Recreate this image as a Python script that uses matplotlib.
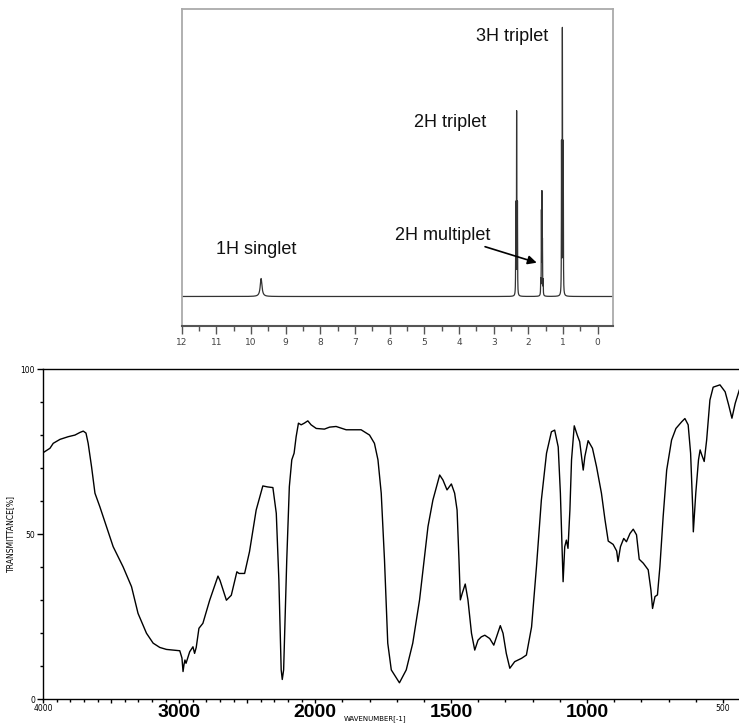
import numpy as np
import matplotlib
matplotlib.use("Agg")
import matplotlib.pyplot as plt
from matplotlib.ticker import FixedLocator, MultipleLocator

plt.rcParams['font.family'] = ['Liberation Sans', 'DejaVu Sans']

# 1H NMR peak list (ppm, height above baseline, half width)
nmr_ppm = [9.71, 2.316, 2.34, 2.364, 1.575, 1.595, 1.61, 1.625, 1.645, 0.995, 1.02, 1.045]
nmr_height = [18, 90, 181, 90, 14, 50, 97, 79, 14, 149, 262, 149]
nmr_width = [0.03, 0.004, 0.004, 0.004, 0.004, 0.004, 0.004, 0.004, 0.004, 0.004, 0.004, 0.004]

# IR spectrum
ir_wavenumber = [4000, 3951, 3927, 3877, 3817, 3767, 3730, 3706, 3686, 3670, 3645, 3620, 3584,
                 3535, 3486, 3413, 3351, 3303, 3241, 3192, 3143, 3094, 2996, 2980, 2972, 2965,
                 2958, 2950, 2923, 2899, 2887, 2875, 2855, 2826, 2776, 2715, 2700, 2653, 2617,
                 2576, 2560, 2519, 2483, 2434, 2385, 2350, 2311, 2286, 2267, 2257, 2250, 2242,
                 2232, 2223, 2209, 2190, 2172, 2155, 2140, 2123, 2103, 2080, 2054, 2030, 1996,
                 1966, 1947, 1923, 1886, 1855, 1831, 1800, 1782, 1769, 1757, 1745, 1733, 1720,
                 1690, 1665, 1641, 1616, 1585, 1567, 1542, 1530, 1515, 1499, 1487, 1478, 1471,
                 1466, 1459, 1448, 1438, 1425, 1413, 1401, 1389, 1376, 1358, 1343, 1333, 1319,
                 1309, 1297, 1284, 1266, 1241, 1223, 1204, 1186, 1168, 1149, 1131, 1119, 1106,
                 1098, 1090, 1088, 1082, 1076, 1070, 1063, 1057, 1047, 1036, 1027, 1014, 1008,
                 996, 980, 965, 947, 934, 922, 904, 891, 886, 877, 865, 855, 842, 830, 818, 808,
                 793, 775, 765, 759, 750, 741, 732, 720, 707, 689, 673, 652, 640, 628, 619, 611,
                 609, 600, 590, 584, 578, 569, 560, 548, 536, 511, 492, 479, 467, 455, 440]
ir_transmittance = [74.7, 76, 77.5, 78.7, 79.5, 80, 80.8, 81.2, 80.6, 77.5, 70.4, 62.4, 58.3,
                    52.3, 46.2, 40.1, 34.1, 26.0, 20.0, 17.0, 15.7, 15.1, 14.7, 12.5, 8.4, 10.5,
                    11.9, 10.9, 14.4, 15.9, 13.9, 15.7, 21.5, 23, 30, 37.3, 36, 30, 31.5,
                    38.6, 38.1, 38.1, 44.7, 57.3, 64.6, 64.3, 64.1, 56.3, 36.1, 20, 8.9, 6.0,
                    8.9, 22, 42.2, 64.4, 72.5, 74.5, 79.5, 83.6, 83.1, 83.6, 84.3, 83.1, 82.0,
                    81.8, 82.4, 82.6, 81.6, 81.6, 81.6, 80.0, 77.5, 72.5, 62.4, 42.2, 17, 8.9,
                    5.0, 8.9, 17, 30.1, 52.3, 60.3, 67.9, 66.4, 63.4, 65.2, 62.4, 57.3, 42.2,
                    30.1, 32.1, 34.9, 30.1, 20, 14.9, 17.9, 18.9, 19.4, 18.4, 16.4, 18.9, 22.3,
                    20, 13.9, 9.4, 11.4, 12.4, 13.4, 21.9, 40.1, 60.3, 74.5, 81.0, 81.5, 76.4,
                    62.4, 40.1, 35.6, 46.2, 48.2, 45.7, 57.3, 72.5, 82.8, 80, 78, 69.4, 73.5,
                    78.3, 76, 70.4, 62.4, 54.4, 47.9, 46.9, 44.9, 41.7, 46.2, 48.7, 47.7, 50.2, 51.5, 49.8, 42.4,
                    41.2, 39.2, 33.1, 27.5, 31.1, 31.6, 40.1, 55.3, 69.4, 78.5, 82.0, 84.0, 85.0, 83.1, 74.5, 57.3,
                    50.7, 62.4, 72.5, 75.5, 74, 72, 78.5, 90.6, 94.5, 95.2, 93.1, 89.1, 85.1, 89.6, 93.6]

ir_major = [4000, 3500, 3000, 2500, 2000, 1500, 1000, 500]
ir_major_labels = ['4000', '', '3000', '', '2000', '1500', '1000', '500']
big_labels = ['3000', '2000', '1500', '1000']

W, H = 739, 727
fig = plt.figure(figsize=(W / 100, H / 100), dpi=100)

# ---------------- NMR panel ----------------
ax1 = fig.add_axes([181.7 / W, 1 - 325.7 / H, (613 - 181.7) / W, (325.7 - 9) / H])
ppm = np.linspace(12.5, -0.6, 40001)
intensity = np.zeros_like(ppm)
for p, h, g in zip(nmr_ppm, nmr_height, nmr_width):
    intensity += h * g**2 / ((ppm - p)**2 + g**2)
ax1.plot(ppm, intensity, color='#333333', lw=0.9)
ax1.set_xlim(12, -0.44)
ax1.set_ylim(-29.2, 287.5)
ax1.set_yticks([])
ax1.xaxis.set_minor_locator(MultipleLocator(0.5))
ax1.set_xticks(range(0, 13))
ax1.set_xticklabels([str(i) for i in range(0, 13)], fontsize=6.5, color='#444444',
                    family='DejaVu Sans')
ax1.tick_params(axis='x', which='major', length=6, width=1, color='#555555', pad=3)
ax1.tick_params(axis='x', which='minor', length=3.5, width=1, color='#555555')
for s in ['left', 'top', 'right']:
    ax1.spines[s].set_color('#aaaaaa')
    ax1.spines[s].set_linewidth(1.3)
ax1.spines['bottom'].set_color('#555555')
ax1.spines['bottom'].set_linewidth(1.5)

txt = dict(fontsize=13, color='#111111', ha='center', va='center')
ax1.text(2.47, 260.5, '3H triplet', **txt)
ax1.text(4.27, 174.5, '2H triplet', **txt)
ax1.text(4.46, 60.5, '2H multiplet', **txt)
ax1.text(9.857, 46.5, '1H singlet', **txt)
ax1.annotate('', xy=(1.76, 33.8), xytext=(3.25, 49.8),
             arrowprops=dict(arrowstyle='-|>', color='black', lw=1.2, mutation_scale=13,
                             shrinkA=0, shrinkB=0))

# ---------------- IR panel ----------------
def fwd(w):
    w = np.asarray(w, dtype=float)
    return np.where(w >= 2000, w, 2 * w - 2000)


def inv(x):
    x = np.asarray(x, dtype=float)
    return np.where(x >= 2000, x, (x + 2000) / 2)


ax2 = fig.add_axes([43.3 / W, 1 - 699.3 / H, (W - 43.3) / W, (699.3 - 369) / H])
ax2.set_xscale('function', functions=(fwd, inv))
ax2.plot(ir_wavenumber, ir_transmittance, color='black', lw=1.0)
ax2.set_xlim(4000, 441)
ax2.set_ylim(0, 100)
ax2.spines['right'].set_visible(False)
for s in ['left', 'top', 'bottom']:
    ax2.spines[s].set_linewidth(1.0)

ax2.xaxis.set_major_locator(FixedLocator(ir_major))
ax2.xaxis.set_minor_locator(FixedLocator(list(range(4000, 400, -100))))
ax2.set_xticklabels(ir_major_labels)
ax2.tick_params(axis='x', which='major', length=3, width=1, pad=0.5)
ax2.tick_params(axis='x', which='minor', length=2.2, width=1)
for lab in ax2.get_xticklabels():
    if lab.get_text() in big_labels:
        lab.set_fontsize(14)
        lab.set_fontweight('bold')
    else:
        lab.set_fontsize(5.5)
        lab.set_family('DejaVu Sans')

ax2.yaxis.set_major_locator(FixedLocator([0, 50, 100]))
ax2.yaxis.set_minor_locator(MultipleLocator(10))
ax2.set_yticklabels(['0', '50', '100'], fontsize=5.5, family='DejaVu Sans')
ax2.tick_params(axis='y', which='major', length=4, width=1, pad=2)
ax2.tick_params(axis='y', which='minor', length=2.5, width=1)

ax2.set_ylabel('TRANSMITTANCE[%]', fontsize=5.5, family='DejaVu Sans')
ax2.yaxis.set_label_coords(-0.0407, 0.503)
ax2.set_xlabel('WAVENUMBER[-1]', fontsize=5, family='DejaVu Sans')
ax2.xaxis.set_label_coords(0.4768, -0.0475)

fig.savefig('out.png', dpi=100)
